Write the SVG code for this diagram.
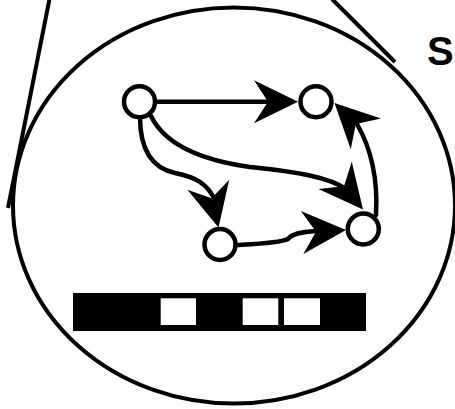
<svg xmlns="http://www.w3.org/2000/svg" width="455" height="409" viewBox="0 0 455 409">
<style>
.frame{fill:none;stroke:#000;stroke-width:4}
.edge{fill:none;stroke:#000;stroke-width:4.5;stroke-linecap:round}
.node{fill:#fff;stroke:#000;stroke-width:4.5}
.lbl{font-family:"Liberation Sans",Arial,sans-serif;font-weight:bold;font-size:40px;fill:#000}
</style>
<defs>
<path id="ah" d="M0,0 L-44,-21.5 L-30,0 L-44,21.5 Z" fill="#000"/>
</defs>
<g id="frame">
<ellipse class="frame" cx="234" cy="205.5" rx="221" ry="198"/>
<line class="frame" x1="49.5" y1="-1" x2="8" y2="208"/>
<line class="frame" x1="332" y1="-1" x2="395" y2="62"/>
</g>
<text class="lbl" x="427" y="65">S</text>
<g id="connectors">
<path class="edge" d="M156,101.7 L272,101.7"/>
<use href="#ah" transform="translate(298,101.7)"/>
<path class="edge" d="M140,117 C140,150 152,168 175,173 C195,177 207,183 215,200"/>
<use href="#ah" transform="translate(218.5,227.5) rotate(76.6)"/>
<path class="edge" d="M151,116 C165,145 200,160 250,167 C300,172 330,178 346,189"/>
<use href="#ah" transform="translate(363,209.5) rotate(50.7)"/>
<path class="edge" d="M237,245 C255,244 280,243 288,239 C292,234 300,232 316,231"/>
<use href="#ah" transform="translate(346,230) rotate(-3.3)"/>
<path class="edge" d="M376,215 C378,180 372,150 357,124"/>
<use href="#ah" transform="translate(334.5,103) rotate(-135.4)"/>
</g>
<g id="nodeA"><circle class="node" cx="139.5" cy="101.7" r="15.5"/></g>
<g id="nodeB"><circle class="node" cx="316" cy="101.7" r="15.5"/></g>
<g id="nodeC"><circle class="node" cx="220" cy="244.5" r="15.5"/></g>
<g id="nodeD"><circle class="node" cx="363.3" cy="229" r="15.5"/></g>
<g id="bar">
<rect x="73" y="293" width="293" height="38" fill="#000"/>
<rect x="160.7" y="298.3" width="35.3" height="26.7" fill="#fff"/>
<rect x="242.7" y="298.3" width="35.6" height="26.7" fill="#fff"/>
<rect x="284" y="298.3" width="36" height="26.7" fill="#fff"/>
</g>
</svg>
